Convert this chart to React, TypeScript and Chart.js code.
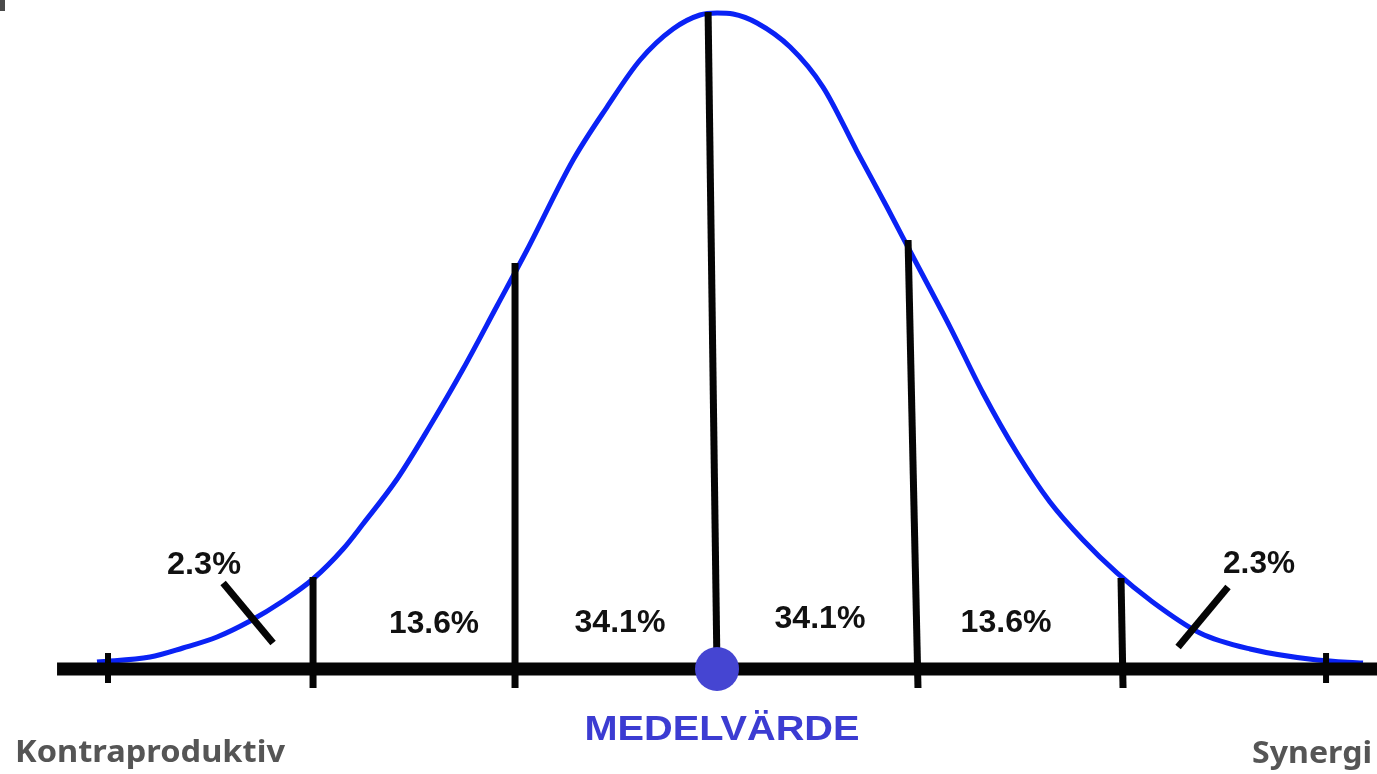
import { useEffect, useRef } from "react";
import { Chart, registerables } from "chart.js";

Chart.register(...registerables);

// Bell curve (x in standard deviations, y relative to peak height)
const curveX = [-3.054, -2.793, -2.631, -2.463, -2.300, -2.138, -1.990, -1.842, -1.744, -1.576, -1.414, -1.251, -1.084, -0.936, -0.709, -0.542, -0.379, -0.217, -0.084, 0, 0.079, 0.197, 0.360, 0.522, 0.690, 0.837, 0.966, 1.148, 1.310, 1.478, 1.640, 1.803, 1.970, 2.133, 2.379, 2.626, 2.956, 3.182];
const curveY = [0.0107, 0.0183, 0.0321, 0.0489, 0.0733, 0.1038, 0.1374, 0.1832, 0.2214, 0.2901, 0.371, 0.458, 0.5542, 0.6397, 0.7771, 0.858, 0.9298, 0.9771, 0.9985, 1.0015, 1.0, 0.9863, 0.9496, 0.8885, 0.79, 0.7053, 0.629, 0.5221, 0.4214, 0.3298, 0.255, 0.1969, 0.1466, 0.1053, 0.055, 0.0305, 0.0137, 0.0092];

// Vertical sigma lines
const sigmaBottomX = [-1.99, -0.995, 0, 0.99, 2.0];
const sigmaTopX = [-1.99, -0.995, -0.044, 0.941, 1.99];
const sigmaBottomY = [-0.029, -0.029, 0, -0.029, -0.029];
const sigmaTopY = [0.1405, 0.62, 1.003, 0.655, 0.139];

// Tail ticks at +-3 sigma
const tailTickX = [-3, 3];
const tailTickTop = 0.0244;
const tailTickBottom = -0.0214;

// Baseline axis range
const axisStart = -3.251;
const axisEnd = 3.251;

// Diagonal pointer marks for the 2.3% tails
const pointerStartX = [-2.433, 2.517];
const pointerStartY = [0.1313, 0.1252];
const pointerEndX = [-2.187, 2.271];
const pointerEndY = [0.0397, 0.0336];

// Mean marker
const meanX = [0];
const meanY = [0];

// Percentage labels
const percentLabels = ["2.3%", "13.6%", "34.1%", "34.1%", "13.6%", "2.3%"];
const percentLabelX = [-2.527, -1.394, -0.478, 0.507, 1.424, 2.670];
const percentLabelY = [0.145, 0.055, 0.0565, 0.0626, 0.0565, 0.1466];
const percentLabelW = [74, 90, 91, 91, 91, 72];

const meanLabel = "MEDELVÄRDE";
const leftLabel = "Kontraproduktiv";
const rightLabel = "Synergi";

const BLUE = "#0a22f5";
const BLACK = "#050505";

export default function App() {
  const ref = useRef<HTMLCanvasElement | null>(null);

  useEffect(() => {
    document.body.style.margin = "0";
    const canvas = ref.current!;
    const seg = (x1: number, y1: number, x2: number, y2: number, w: number) => ({
      type: "line" as const,
      data: [{ x: x1, y: y1 }, { x: x2, y: y2 }],
      borderColor: BLACK,
      borderWidth: w,
      borderCapStyle: "butt" as const,
      pointRadius: 0,
      clip: false,
      order: 1,
    });

    const datasets: any[] = [];
    datasets.push({
      type: "scatter",
      data: meanX.map((x, i) => ({ x, y: meanY[i] })),
      backgroundColor: "#4545d2",
      borderColor: "#4545d2",
      borderWidth: 0,
      pointRadius: 22,
      pointHoverRadius: 22,
      showLine: false,
      clip: false,
      order: 0,
    });
    datasets.push(seg(axisStart, 0, axisEnd, 0, 13));
    sigmaBottomX.forEach((bx, i) => {
      datasets.push(seg(bx, sigmaBottomY[i], sigmaTopX[i], sigmaTopY[i], 7));
    });
    tailTickX.forEach((tx) => datasets.push(seg(tx, tailTickBottom, tx, tailTickTop, 6)));
    pointerStartX.forEach((sx, i) =>
      datasets.push(seg(sx, pointerStartY[i], pointerEndX[i], pointerEndY[i], 7))
    );
    datasets.push({
      type: "line",
      data: curveX.map((x, i) => ({ x, y: curveY[i] })),
      borderColor: BLUE,
      borderWidth: 5,
      pointRadius: 0,
      cubicInterpolationMode: "monotone",
      clip: false,
      order: 2,
    });

    const textPlugin = {
      id: "texts",
      afterDatasetsDraw(chart: any) {
        const ctx = chart.ctx as CanvasRenderingContext2D;
        const xs = chart.scales.x;
        const ys = chart.scales.y;
        const draw = (t: string, x: number, y: number, font: string, color: string, w: number) => {
          ctx.save();
          ctx.font = font;
          ctx.fillStyle = color;
          ctx.textBaseline = "alphabetic";
          ctx.textAlign = "center";
          const mw = ctx.measureText(t).width;
          const sx = w / mw;
          const px = xs.getPixelForValue(x);
          const py = ys.getPixelForValue(y);
          ctx.translate(px, py);
          ctx.scale(sx, 1);
          ctx.fillText(t, 0, 0);
          ctx.restore();
        };
        percentLabels.forEach((t, i) =>
          draw(t, percentLabelX[i], percentLabelY[i], "bold 31px 'Liberation Sans', Arial, sans-serif", "#111111", percentLabelW[i])
        );
        draw(meanLabel, 0.0246, -0.1084, "bold 35px 'Liberation Sans', Arial, sans-serif", "#3c3cd2", 275);
        draw(leftLabel, -2.793, -0.142, "bold 30px 'Noto Sans', sans-serif", "#555555", 270);
        draw(rightLabel, 2.931, -0.1435, "bold 30px 'Noto Sans', sans-serif", "#555555", 120);
      },
    };

    const chart = new Chart(canvas, {
      type: "line",
      data: { datasets },
      options: {
        responsive: false,
        animation: false,
        devicePixelRatio: 1,
        layout: { padding: 0, autoPadding: false },
        plugins: { legend: { display: false }, tooltip: { enabled: false } },
        events: [],
        scales: {
          x: { type: "linear", display: false, min: -3.532, max: 3.251 },
          y: { type: "linear", display: false, min: -0.1603, max: 1.0214 },
        },
      },
      plugins: [textPlugin],
    } as any);
    return () => chart.destroy();
  }, []);

  return (
    <div style={{ position: "fixed", left: 0, top: 0, width: 1377, height: 774, background: "#ffffff" }}>
      <canvas ref={ref} width={1377} height={774} style={{ width: 1377, height: 774, display: "block" }} />
      <div style={{ position: "absolute", left: 0, top: 0, width: 5, height: 11, background: "#4a4a4a" }} />
    </div>
  );
}
